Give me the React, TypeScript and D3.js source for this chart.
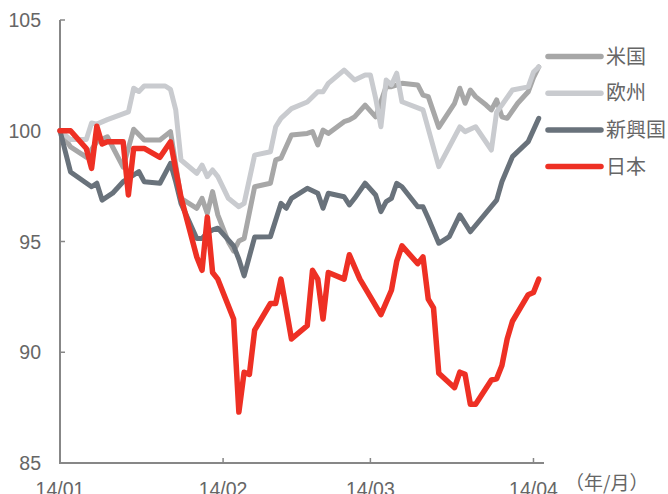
import React from "react";
import * as d3 from "d3";

const W = 668;
const H = 494;

const xTickDates = ["2014-01-01", "2014-02-01", "2014-03-01", "2014-04-01"];
const xTickLabels = ["14/01", "14/02", "14/03", "14/04"];
const yTicks = [85, 90, 95, 100, 105];
const unitLabel = "（年/月）";

const seriesNames = ["米国", "欧州", "新興国", "日本"];
const seriesColors = ["#a7a7a7", "#c9cbcf", "#69727b", "#ee3024"];

// [MM-DD (2014), index value]
const usData: [string, number][] = [
  ["01-01", 100], ["01-03", 99.27], ["01-06", 98.81], ["01-08", 99.5], ["01-10", 99.73],
  ["01-13", 98.36], ["01-15", 100.07], ["01-17", 99.58], ["01-20", 99.58], ["01-22", 99.96],
  ["01-24", 96.95], ["01-27", 96.5], ["01-28", 96.95], ["01-29", 96.27], ["01-30", 97.25],
  ["01-31", 96.2], ["02-02", 94.98], ["02-03", 94.57], ["02-04", 95.02], ["02-05", 95.14],
  ["02-07", 97.47], ["02-10", 97.63], ["02-11", 98.68], ["02-12", 98.76], ["02-14", 99.81],
  ["02-17", 99.88], ["02-18", 99.96], ["02-19", 99.36], ["02-20", 100.03], ["02-21", 99.88],
  ["02-24", 100.41], ["02-25", 100.49], ["02-26", 100.63], ["02-28", 101.16], ["03-02", 100.63],
  ["03-04", 101.99], ["03-05", 101.99], ["03-07", 102.14], ["03-10", 102.07], ["03-11", 101.61],
  ["03-12", 101.54], ["03-14", 100.15], ["03-17", 101.24], ["03-18", 101.92], ["03-19", 101.24],
  ["03-20", 101.84], ["03-21", 101.54], ["03-23", 101.16], ["03-24", 100.94], ["03-25", 101.39],
  ["03-26", 100.63], ["03-27", 100.56], ["03-29", 101.24], ["03-31", 101.76], ["04-01", 102.4],
  ["04-02", 102.88],
];

const euroData: [string, number][] = [
  ["01-01", 100], ["01-03", 99.6], ["01-06", 99.6], ["01-07", 100.35], ["01-08", 100.3],
  ["01-10", 100.5], ["01-14", 100.85], ["01-15", 101.92], ["01-16", 101.77], ["01-17", 102.02],
  ["01-21", 102.02], ["01-22", 101.87], ["01-23", 100.94], ["01-24", 98.68], ["01-27", 98.08],
  ["01-28", 98.45], ["01-29", 97.93], ["01-30", 98.23], ["01-31", 97.93], ["02-02", 96.95],
  ["02-04", 96.57], ["02-05", 96.72], ["02-07", 98.9], ["02-10", 99.05], ["02-11", 100.18],
  ["02-12", 100.56], ["02-14", 101.0], ["02-17", 101.3], ["02-19", 101.76], ["02-20", 101.76],
  ["02-21", 102.14], ["02-24", 102.74], ["02-26", 102.29], ["02-28", 102.52], ["03-01", 102.52],
  ["03-02", 101.47], ["03-03", 100.18], ["03-04", 102.29], ["03-05", 102.07], ["03-06", 102.6],
  ["03-07", 101.31], ["03-11", 100.94], ["03-14", 98.38], ["03-18", 100.17], ["03-19", 99.96],
  ["03-21", 100.18], ["03-24", 99.13], ["03-25", 100.85], ["03-26", 101.16], ["03-28", 101.84],
  ["03-31", 101.98], ["04-01", 102.65], ["04-02", 102.88],
];

const emData: [string, number][] = [
  ["01-01", 100], ["01-03", 98.14], ["01-07", 97.47], ["01-08", 97.63], ["01-09", 96.87],
  ["01-11", 97.18], ["01-13", 97.7], ["01-16", 98.15], ["01-17", 97.7], ["01-20", 97.63],
  ["01-22", 98.53], ["01-23", 97.69], ["01-24", 96.72], ["01-26", 95.67], ["01-27", 95.14],
  ["01-28", 95.14], ["01-29", 95.4], ["01-30", 95.52], ["01-31", 95.6], ["02-03", 94.8],
  ["02-04", 94.2], ["02-05", 93.45], ["02-07", 95.2], ["02-10", 95.22], ["02-12", 96.72],
  ["02-13", 96.5], ["02-14", 96.95], ["02-17", 97.4], ["02-19", 97.18], ["02-20", 96.5],
  ["02-21", 97.18], ["02-24", 97.02], ["02-25", 96.65], ["02-26", 96.95], ["02-28", 97.63],
  ["03-02", 97.1], ["03-03", 96.35], ["03-04", 96.8], ["03-05", 96.95], ["03-06", 97.63],
  ["03-07", 97.47], ["03-10", 96.57], ["03-11", 96.57], ["03-12", 96.05], ["03-14", 94.92],
  ["03-16", 95.22], ["03-18", 96.2], ["03-20", 95.44], ["03-25", 96.87], ["03-26", 97.7],
  ["03-28", 98.83], ["03-31", 99.51], ["04-02", 100.56],
];

const japanData: [string, number][] = [
  ["01-01", 100], ["01-03", 100], ["01-06", 99.2], ["01-07", 98.3], ["01-08", 100.2],
  ["01-09", 99.4], ["01-10", 99.5], ["01-13", 99.5], ["01-14", 97.1], ["01-15", 99.2],
  ["01-17", 99.2], ["01-20", 98.8], ["01-22", 99.5], ["01-24", 97.0], ["01-27", 94.3],
  ["01-28", 93.7], ["01-29", 96.1], ["01-30", 93.6], ["01-31", 93.3], ["02-03", 91.5],
  ["02-04", 87.3], ["02-05", 89.1], ["02-06", 89.0], ["02-07", 91.0], ["02-10", 92.2],
  ["02-11", 92.2], ["02-12", 93.3], ["02-14", 90.6], ["02-17", 91.2], ["02-18", 93.7],
  ["02-19", 93.3], ["02-20", 91.5], ["02-21", 93.6], ["02-24", 93.3], ["02-25", 94.4],
  ["02-27", 93.3], ["03-03", 91.7], ["03-05", 92.8], ["03-06", 94.1], ["03-07", 94.8],
  ["03-10", 94.0], ["03-11", 94.3], ["03-12", 92.4], ["03-13", 92.0], ["03-14", 89.05],
  ["03-17", 88.4], ["03-18", 89.1], ["03-19", 89.0], ["03-20", 87.65], ["03-21", 87.65],
  ["03-24", 88.75], ["03-25", 88.8], ["03-26", 89.4], ["03-27", 90.6], ["03-28", 91.4],
  ["03-31", 92.6], ["04-01", 92.7], ["04-02", 93.3],
];

const allSeries = [usData, euroData, emData, japanData];

const parse = d3.utcParse("%Y-%m-%d");
const pd = (s: string) => parse("2014-" + s) as Date;

export default function App() {
  const x = d3
    .scaleUtc()
    .domain([parse("2014-01-01") as Date, parse("2014-04-03") as Date])
    .range([60, 544]);
  const y = d3.scaleLinear().domain([85, 105]).range([463, 20]);

  const line = d3
    .line<[string, number]>()
    .x((d) => x(pd(d[0])))
    .y((d) => y(d[1]));

  const axisColor = "#878787";
  const textColor = "#666666";
  const font = "'Liberation Sans', Arial, 'Noto Sans CJK JP', sans-serif";
  const cjk = "'Noto Sans CJK JP', 'Noto Sans CJK SC', sans-serif";

  return (
    <svg
      width={W}
      height={H}
      style={{ position: "absolute", left: 0, top: 0, background: "#fff" }}
    >
      {/* axes */}
      <line x1={60} x2={60} y1={y(105)} y2={y(85)} stroke={axisColor} strokeWidth={2} />
      <line x1={59} x2={x(parse("2014-04-03") as Date)} y1={y(85)} y2={y(85)} stroke={axisColor} strokeWidth={2} />
      {yTicks.map((t) => (
        <g key={t}>
          <line x1={60} x2={65} y1={y(t)} y2={y(t)} stroke={axisColor} strokeWidth={1.5} />
          <text
            x={41}
            y={y(t)}
            dy="0.36em"
            textAnchor="end"
            fontSize={19.5}
            fontFamily={font}
            fill={textColor}
          >
            {t}
          </text>
        </g>
      ))}
      {xTickDates.map((d, i) => (
        <g key={d}>
          {i > 0 && (
            <line x1={x(parse(d) as Date)} x2={x(parse(d) as Date)} y1={y(85)} y2={y(85) - 5} stroke={axisColor} strokeWidth={1.5} />
          )}
          <text
            x={x(parse(d) as Date)}
            y={496}
            textAnchor="middle"
            fontSize={19.5}
            fontFamily={font}
            fill={textColor}
          >
            {xTickLabels[i]}
          </text>
        </g>
      ))}
      <text x={565} y={490} fontSize={19} fontFamily={cjk} fill={textColor}>
        {unitLabel}
      </text>

      {/* series */}
      {allSeries.map((s, i) => (
        <path
          key={i}
          d={line(s) || ""}
          fill="none"
          stroke={seriesColors[i]}
          strokeWidth={i === 3 ? 5.5 : 5}
          strokeLinejoin="round"
          strokeLinecap="round"
        />
      ))}

      {/* legend */}
      {seriesNames.map((n, i) => {
        const ly = 56.5 + i * 36.7;
        return (
          <g key={n}>
            <line x1={548} x2={601} y1={ly} y2={ly} stroke={seriesColors[i]} strokeWidth={5.5} strokeLinecap="round" />
            <text x={606} y={ly} dy="0.36em" fontSize={20} fontFamily={cjk} fill={textColor}>
              {n}
            </text>
          </g>
        );
      })}
    </svg>
  );
}
